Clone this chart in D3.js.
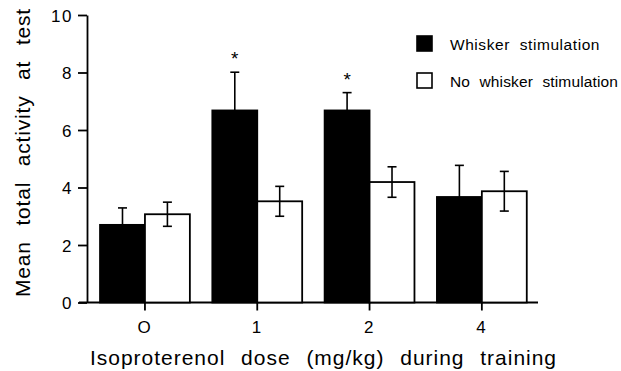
<!DOCTYPE html>
<html>
<head>
<meta charset="utf-8">
<script src="https://d3js.org/d3.v7.min.js"></script>
<style>
  body { margin: 0; background: #fff; }
  svg { display: block; font-family: "Liberation Sans", Arial, sans-serif; }
  .axis text { font-size: 17px; fill: #000; letter-spacing: 1.5px; }
  .axis line, .axis path { stroke: #000; stroke-width: 1.8; }
</style>
</head>
<body>
<div id="chart"></div>
<script>
  // data
  var doses = ["O", "1", "2", "4"];
  var series = ["Whisker stimulation", "No whisker stimulation"];
  var whiskerMean = [2.70, 6.68, 6.68, 3.67];
  var whiskerErr = [0.59, 1.33, 0.62, 1.10];
  var noWhiskerMean = [3.07, 3.52, 4.19, 3.87];
  var noWhiskerErr = [0.42, 0.52, 0.53, 0.69];
  var significant = [false, true, true, false];
  var yTicks = [0, 2, 4, 6, 8, 10];

  var W = 621, H = 371;
  var svg = d3.select("#chart").append("svg")
      .attr("width", W).attr("height", H);

  // stretch a text to a given width (the original is widely spaced)
  function fitWidth(sel, target, wordSp) {
    sel.attr("word-spacing", wordSp + "px").attr("letter-spacing", "0px");
    var node = sel.node();
    var w = node.getComputedTextLength();
    var n = node.textContent.length;
    sel.attr("letter-spacing", ((target - w) / n) + "px");
  }

  var y = d3.scaleLinear().domain([0, 10]).range([302.5, 15]);

  var x = d3.scaleBand()
      .domain(doses)
      .range([88.8, 538])
      .paddingInner(0.2)
      .paddingOuter(0.1);

  var xSub = d3.scaleBand()
      .domain(series)
      .range([0, x.bandwidth()]);

  var fill = d3.scaleOrdinal().domain(series).range(["#000", "#fff"]);

  // y axis
  var yAxis = svg.append("g")
      .attr("class", "axis")
      .attr("transform", "translate(87,0)")
      .call(d3.axisLeft(y).tickValues(yTicks).tickSize(9).tickSizeOuter(0).tickPadding(5));
  yAxis.selectAll("text").attr("dy", "0.36em");

  // x axis
  var xAxis = svg.append("g")
      .attr("class", "axis")
      .attr("transform", "translate(0," + y(0) + ")")
      .call(d3.axisBottom(x).tickSize(8).tickSizeOuter(0).tickPadding(10));
  xAxis.select(".domain").remove();
  xAxis.append("line")
      .attr("x1", 79).attr("x2", 538)
      .attr("y1", 0).attr("y2", 0);

  var rows = doses.map(function(d, i) {
    return [
      { dose: d, key: series[0], mean: whiskerMean[i], err: whiskerErr[i], both: false },
      { dose: d, key: series[1], mean: noWhiskerMean[i], err: noWhiskerErr[i], both: true }
    ];
  });

  var groups = svg.append("g").selectAll("g")
      .data(rows).enter().append("g")
      .attr("transform", function(d) { return "translate(" + x(d[0].dose) + ",0)"; });

  var bars = groups.selectAll("g.bar")
      .data(function(d) { return d; }).enter().append("g").attr("class", "bar");

  bars.append("rect")
      .attr("x", function(d) { return xSub(d.key); })
      .attr("y", function(d) { return y(d.mean); })
      .attr("width", xSub.bandwidth())
      .attr("height", function(d) { return y(0) - y(d.mean); })
      .attr("fill", function(d) { return fill(d.key); })
      .attr("stroke", "#000")
      .attr("stroke-width", 1.8);

  var cap = 4.5;
  // error bars: upper for all, lower (inside the bar) for the open bars
  bars.each(function(d) {
    var g = d3.select(this);
    var cx = xSub(d.key) + xSub.bandwidth() / 2;
    var ends = d.both ? [d.mean + d.err, d.mean - d.err] : [d.mean + d.err];
    ends.forEach(function(v) {
      g.append("line")
          .attr("x1", cx).attr("x2", cx)
          .attr("y1", y(d.mean)).attr("y2", y(v))
          .attr("stroke", "#000").attr("stroke-width", 1.6);
      g.append("line")
          .attr("x1", cx - cap).attr("x2", cx + cap)
          .attr("y1", y(v)).attr("y2", y(v))
          .attr("stroke", "#000").attr("stroke-width", 1.6);
    });
  });

  // significance stars
  groups.filter(function(d, i) { return significant[i]; })
      .append("text")
      .attr("x", xSub(series[0]) + xSub.bandwidth() / 2)
      .attr("y", function(d) { return y(d[0].mean + d[0].err) - 7; })
      .attr("text-anchor", "middle")
      .attr("font-size", "19px")
      .text("*");

  // legend
  var legend = svg.append("g").selectAll("g")
      .data(series).enter().append("g")
      .attr("transform", function(d, i) { return "translate(417," + (36 + i * 37) + ")"; });
  legend.append("rect")
      .attr("width", 15).attr("height", 15)
      .attr("fill", function(d) { return fill(d); })
      .attr("stroke", "#000").attr("stroke-width", 1.6);
  legend.append("text")
      .attr("x", 33).attr("y", 14)
      .attr("font-size", "15.5px")
      .text(function(d) { return d; })
      .each(function(d, i) { fitWidth(d3.select(this), i === 0 ? 150 : 168, 5); });

  // axis titles
  var xTitle = svg.append("text")
      .attr("x", 90).attr("y", 365)
      .attr("font-size", "21px")
      .text("Isoproterenol dose (mg/kg) during training");
  fitWidth(xTitle, 467, 9);

  var yTitle = svg.append("text")
      .attr("transform", "translate(30,297) rotate(-90)")
      .attr("font-size", "21px")
      .text("Mean total activity at test");
  fitWidth(yTitle, 289, 9);
</script>
</body>
</html>
